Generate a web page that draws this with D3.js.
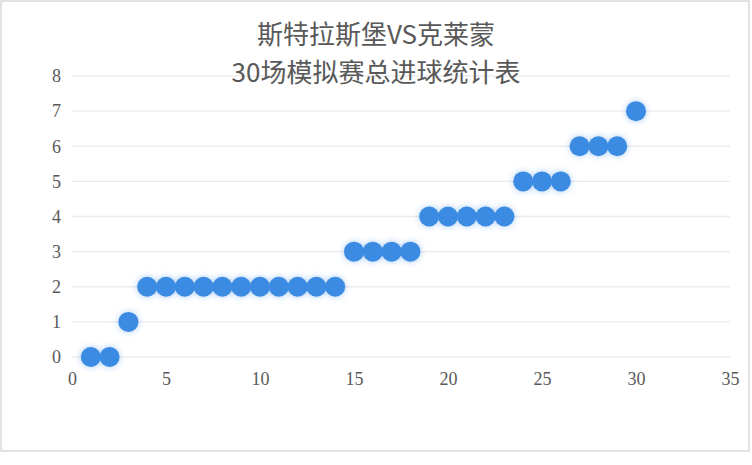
<!DOCTYPE html>
<html><head><meta charset="utf-8">
<script src="https://cdn.jsdelivr.net/npm/d3@7"></script>
<style>body{margin:0;background:#fff}</style>
</head><body>
<svg id="c" width="752" height="465"></svg>
<script>
const titleLines = ["斯特拉斯堡VS克莱蒙", "30场模拟赛总进球统计表"];
const matches = d3.range(1, 31);
const goals = [0,0,1,2,2,2,2,2,2,2,2,2,2,2,3,3,3,3,4,4,4,4,4,5,5,5,6,6,6,7];
const xTicks = [0,5,10,15,20,25,30,35];
const yTicks = [0,1,2,3,4,5,6,7,8];

const svg = d3.select("#c");
svg.append("rect").attr("x",1).attr("y",1).attr("width",748).attr("height",450)
  .attr("fill","#fff").attr("stroke","#d9d9d9").attr("stroke-width",1.5);

const defs = svg.append("defs");
const f = defs.append("filter").attr("id","glow").attr("x","-50%").attr("y","-50%").attr("width","200%").attr("height","200%");
f.append("feGaussianBlur").attr("in","SourceAlpha").attr("stdDeviation",3).attr("result","b");
f.append("feFlood").attr("flood-color","#3b8be3").attr("flood-opacity",0.45);
f.append("feComposite").attr("in2","b").attr("operator","in").attr("result","s");
const m = f.append("feMerge");
m.append("feMergeNode").attr("in","s");
m.append("feMergeNode").attr("in","SourceGraphic");

const x = d3.scaleLinear().domain([0,35]).range([72,730]);
const y = d3.scaleLinear().domain([0,8]).range([357,76]);

svg.append("g").selectAll("line").data(yTicks).join("line")
  .attr("x1",x(0)).attr("x2",x(35)).attr("y1",d=>y(d)).attr("y2",d=>y(d))
  .attr("stroke","#ececec").attr("stroke-width",1.3);

const font = "'Liberation Serif','Noto Sans CJK SC',serif";
const yAxis = d3.axisLeft(y).tickValues(yTicks).tickSize(0).tickPadding(0);
const gy = svg.append("g").attr("transform","translate(61,0)").call(yAxis);
gy.select(".domain").remove();
gy.selectAll("text").attr("font-family",font).attr("font-size",18).attr("fill","#595959");

const xAxis = d3.axisBottom(x).tickValues(xTicks).tickSize(0).tickPadding(0);
const gx = svg.append("g").attr("transform","translate(0,372)").call(xAxis);
gx.select(".domain").remove();
gx.selectAll("text").attr("font-family",font).attr("font-size",18).attr("fill","#595959");

svg.append("g").selectAll("circle").data(matches).join("circle")
  .attr("cx",d=>x(d)).attr("cy",(d,i)=>y(goals[i])).attr("r",10)
  .attr("fill","#3b8be3").attr("filter","url(#glow)");

svg.append("g").selectAll("text").data(titleLines).join("text")
  .attr("x",376).attr("y",(d,i)=>44+i*38).attr("text-anchor","middle")
  .attr("font-family","'Noto Sans CJK SC',sans-serif").attr("font-size",26)
  .attr("fill","#595959").text(d=>d);
</script>
</body></html>
